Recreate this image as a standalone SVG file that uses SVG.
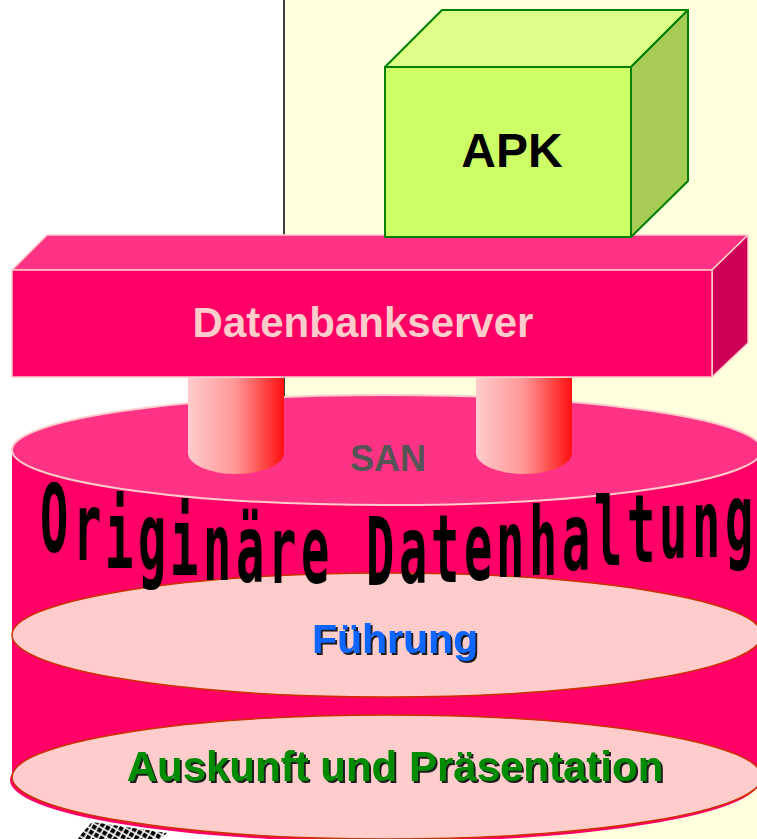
<svg xmlns="http://www.w3.org/2000/svg" width="757" height="839" viewBox="0 0 757 839">
<defs>
<style>
.lbl{font-family:"Liberation Sans",Arial,sans-serif;font-weight:bold;text-anchor:middle}
.bar{stroke:#FFCCCC;stroke-width:1.5;stroke-linejoin:round}
.box{stroke:#008000;stroke-width:2;stroke-linejoin:round}
.disk{fill:#FFCCCC;stroke:#CC3300;stroke-width:1.5}
.big{font-family:"DejaVu Sans Mono","Liberation Mono",monospace;font-weight:bold;font-size:47px;fill:#000}
</style>
<filter id="shade" x="-10%" y="-30%" width="120%" height="160%">
<feOffset in="SourceAlpha" dx="2" dy="2" result="off"/>
<feFlood flood-color="#1a1a1a"/>
<feComposite in2="off" operator="in" result="sh"/>
<feMerge><feMergeNode in="sh"/><feMergeNode in="SourceGraphic"/></feMerge>
</filter>
<linearGradient id="pillar" x1="0" y1="0" x2="1" y2="0">
<stop offset="0" stop-color="#FFCCCC"/>
<stop offset="0.5" stop-color="#FF9595"/>
<stop offset="1" stop-color="#FF1010"/>
</linearGradient>
<linearGradient id="ball" x1="0" y1="0" x2="1" y2="0">
<stop offset="0" stop-color="#CCFF66"/>
<stop offset="0.45" stop-color="#99D044"/>
<stop offset="1" stop-color="#118811"/>
</linearGradient>
<pattern id="grid" width="6" height="6" patternUnits="userSpaceOnUse" patternTransform="rotate(30)">
<rect width="6" height="6" fill="#ffffff"/>
<rect x="1" y="1" width="4.4" height="4.4" fill="#000000"/>
</pattern>
</defs>

<g id="background">
<rect x="0" y="0" width="757" height="839" fill="#FFFFFF"/>
<rect x="284" y="0" width="473" height="839" fill="#FFFFDD"/>
<line x1="284" y1="0" x2="284" y2="839" stroke="#000" stroke-width="1.5"/>
<polygon points="92,822 167,833 160,839 77,839" fill="url(#grid)"/>
</g>

<g id="san">
<rect x="12" y="450" width="752" height="330" fill="#FF0066"/>
<ellipse cx="385" cy="780" rx="375" ry="62" fill="#FF0066"/>
<ellipse cx="387" cy="450" rx="375" ry="55" fill="#FF3385" stroke="#FFCCCC" stroke-width="2"/>
<text class="lbl" x="388" y="471" font-size="36" fill="#555555">SAN</text>
</g>

<g id="connectors">
<path d="M188,378 V453 A48,21 0 0 0 284,453 V378 Z" fill="url(#pillar)"/>
<path d="M476,378 V453 A48,21 0 0 0 572,453 V378 Z" fill="url(#pillar)"/>
<path d="M490,236 V245 A23.5,22 0 0 0 537,245 V236 Z" fill="url(#ball)"/>
</g>

<g id="datenbankserver">
<polygon class="bar" points="12,270 47,235 748,235 712,270" fill="#FF3385"/>
<polygon class="bar" points="712,270 748,235 748,343 712,377" fill="#CC0055"/>
<rect class="bar" x="12" y="270" width="700" height="107" fill="#FF0066"/>
<text class="lbl" x="363" y="337" font-size="42" fill="#FFCCCC">Datenbankserver</text>
</g>

<g id="apk">
<polygon class="box" points="385,67 442,10 688,10 631,67" fill="#DDFF88"/>
<polygon class="box" points="631,67 688,10 688,181 631,237" fill="#A6CC55"/>
<rect class="box" x="385" y="67" width="246" height="170" fill="#CCFF66"/>
<text class="lbl" x="512" y="167" font-size="48" fill="#000000">APK</text>
</g>

<g id="fuehrung">
<ellipse class="disk" cx="387" cy="635" rx="375" ry="62"/>
<text class="lbl" x="395" y="653" font-size="41" fill="#0F66FF" filter="url(#shade)">Führung</text>
</g>

<g id="auskunft">
<ellipse class="disk" cx="387" cy="777" rx="375" ry="62"/>
<text class="lbl" x="395" y="781" font-size="42" fill="#008C00" filter="url(#shade)">Auskunft und Präsentation</text>
</g>

<g id="originaere-datenhaltung">
<text class="big" transform="scale(1,2)" x="40 73 105 138 170 203 236 268 301 333 366 399 431 464 496 529 562 594 627 659 692 725" y="276 280 284 285 287.5 290 291 291.5 291.5 292 292.5 291.5 291 290 288.5 287.5 285 282.5 281 279 278.5 275.5">Originäre Datenhaltung</text>
</g>
</svg>
